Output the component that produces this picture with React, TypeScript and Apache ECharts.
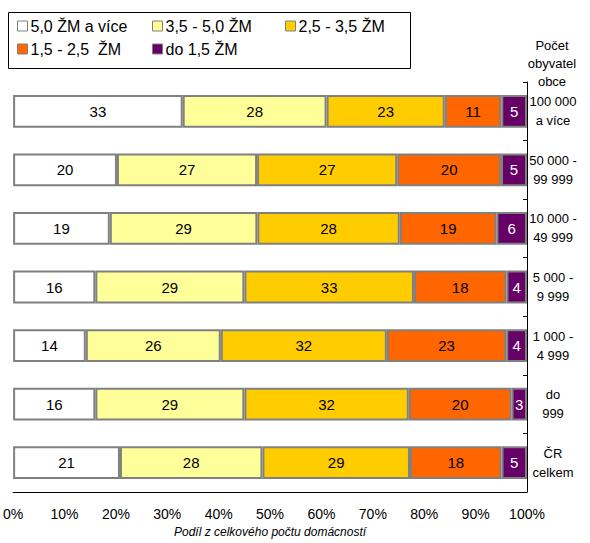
import React, { useEffect, useRef } from "react";
import * as echarts from "echarts";

const categories = [
  "100 000\na více",
  "50 000 -\n99 999",
  "10 000 -\n49 999",
  "5 000 -\n9 999",
  "1 000 -\n4 999",
  "do\n999",
  "ČR\ncelkem",
];
const seriesNames = ["5,0 ŽM a více", "3,5 - 5,0 ŽM", "2,5 - 3,5 ŽM", "1,5 - 2,5  ŽM", "do 1,5 ŽM"];
const s50 = [33, 20, 19, 16, 14, 16, 21];
const s35 = [28, 27, 29, 29, 26, 29, 28];
const s25 = [23, 27, 28, 33, 32, 32, 29];
const s15 = [11, 20, 19, 18, 23, 20, 18];
const s00 = [5, 5, 6, 4, 4, 3, 5];
const xTicks = [0, 10, 20, 30, 40, 50, 60, 70, 80, 90, 100];
const colors = ["#FFFFFF", "#FFFF99", "#FFCC00", "#FF6600", "#660066"];
const labelColors = ["#000", "#000", "#000", "#000", "#FFFFFF"];

const FONT = "'Liberation Sans', Arial, sans-serif";

export default function App() {
  const ref = useRef<HTMLDivElement>(null);
  useEffect(() => {
    document.body.style.margin = "0";
    if (!ref.current) return;
    const chart = echarts.init(ref.current, null, { renderer: "svg" });
    const raw = [s50, s35, s25, s15, s00];
    const sums = categories.map((_, i) => raw.reduce((a, s) => a + s[i], 0));
    const legendPos = [
      { left: 17, top: 18 },
      { left: 152, top: 18 },
      { left: 285, top: 18 },
      { left: 17, top: 41 },
      { left: 152, top: 41 },
    ];
    chart.setOption({
      animation: false,
      textStyle: { fontFamily: FONT },
      legend: seriesNames.map((n, i) => ({
        data: [n],
        left: legendPos[i].left,
        top: legendPos[i].top,
        padding: 0,
        icon: "rect",
        itemWidth: 10,
        itemHeight: 10,
        selectedMode: false,
        itemStyle: { borderColor: "#808080", borderWidth: 1 },
        textStyle: { fontSize: 16, color: "#000", fontFamily: FONT, padding: [0, 0, 0, -2] },
      })),
      graphic: [
        {
          type: "rect",
          shape: { x: 8.5, y: 12.5, width: 402, height: 56 },
          style: { fill: "none", stroke: "#000", lineWidth: 1 },
        },
        {
          type: "text",
          x: 552,
          y: 36,
          style: {
            text: "Počet\nobyvatel\nobce",
            align: "center",
            verticalAlign: "top",
            fontSize: 13,
            lineHeight: 18,
            fill: "#000",
            fontFamily: FONT,
          },
        },
      ],
      grid: { left: 10, right: 63, top: 82, bottom: 50, containLabel: false },
      xAxis: {
        type: "value",
        min: xTicks[0],
        max: xTicks[xTicks.length - 1],
        interval: 10,
        splitLine: { show: false },
        axisLine: { show: true, lineStyle: { color: "#000", width: 1 } },
        axisTick: { show: false },
        axisLabel: { formatter: "{value}%", fontSize: 14, color: "#000", margin: 15, fontFamily: FONT },
        name: "Podíl z celkového počtu domácností",
        nameLocation: "middle",
        nameGap: 34,
        nameTextStyle: { fontSize: 12, fontStyle: "italic", color: "#000", fontFamily: FONT },
      },
      yAxis: {
        type: "category",
        position: "right",
        inverse: true,
        z: 5,
        data: categories,
        axisLine: { show: true, onZero: false, lineStyle: { color: "#000", width: 1 } },
        axisTick: { show: true, inside: true, length: 4, lineStyle: { color: "#000" } },
        axisLabel: {
          fontSize: 13,
          lineHeight: 19,
          align: "center",
          margin: 26,
          color: "#000",
          fontFamily: FONT,
        },
      },
      series: seriesNames.map((n, si) => ({
        name: n,
        type: "bar",
        stack: "total",
        barWidth: "56%",
        data: raw[si].map((v, i) => (v / sums[i]) * 100),
        itemStyle: { color: colors[si], borderColor: "#808080", borderWidth: 2 },
        label: {
          show: true,
          position: "inside",
          fontSize: 15,
          color: labelColors[si],
          fontFamily: FONT,
          formatter: (p: any) => String(raw[si][p.dataIndex]),
        },
      })),
    });
    return () => chart.dispose();
  }, []);
  return <div ref={ref} style={{ width: 590, height: 543 }} />;
}
